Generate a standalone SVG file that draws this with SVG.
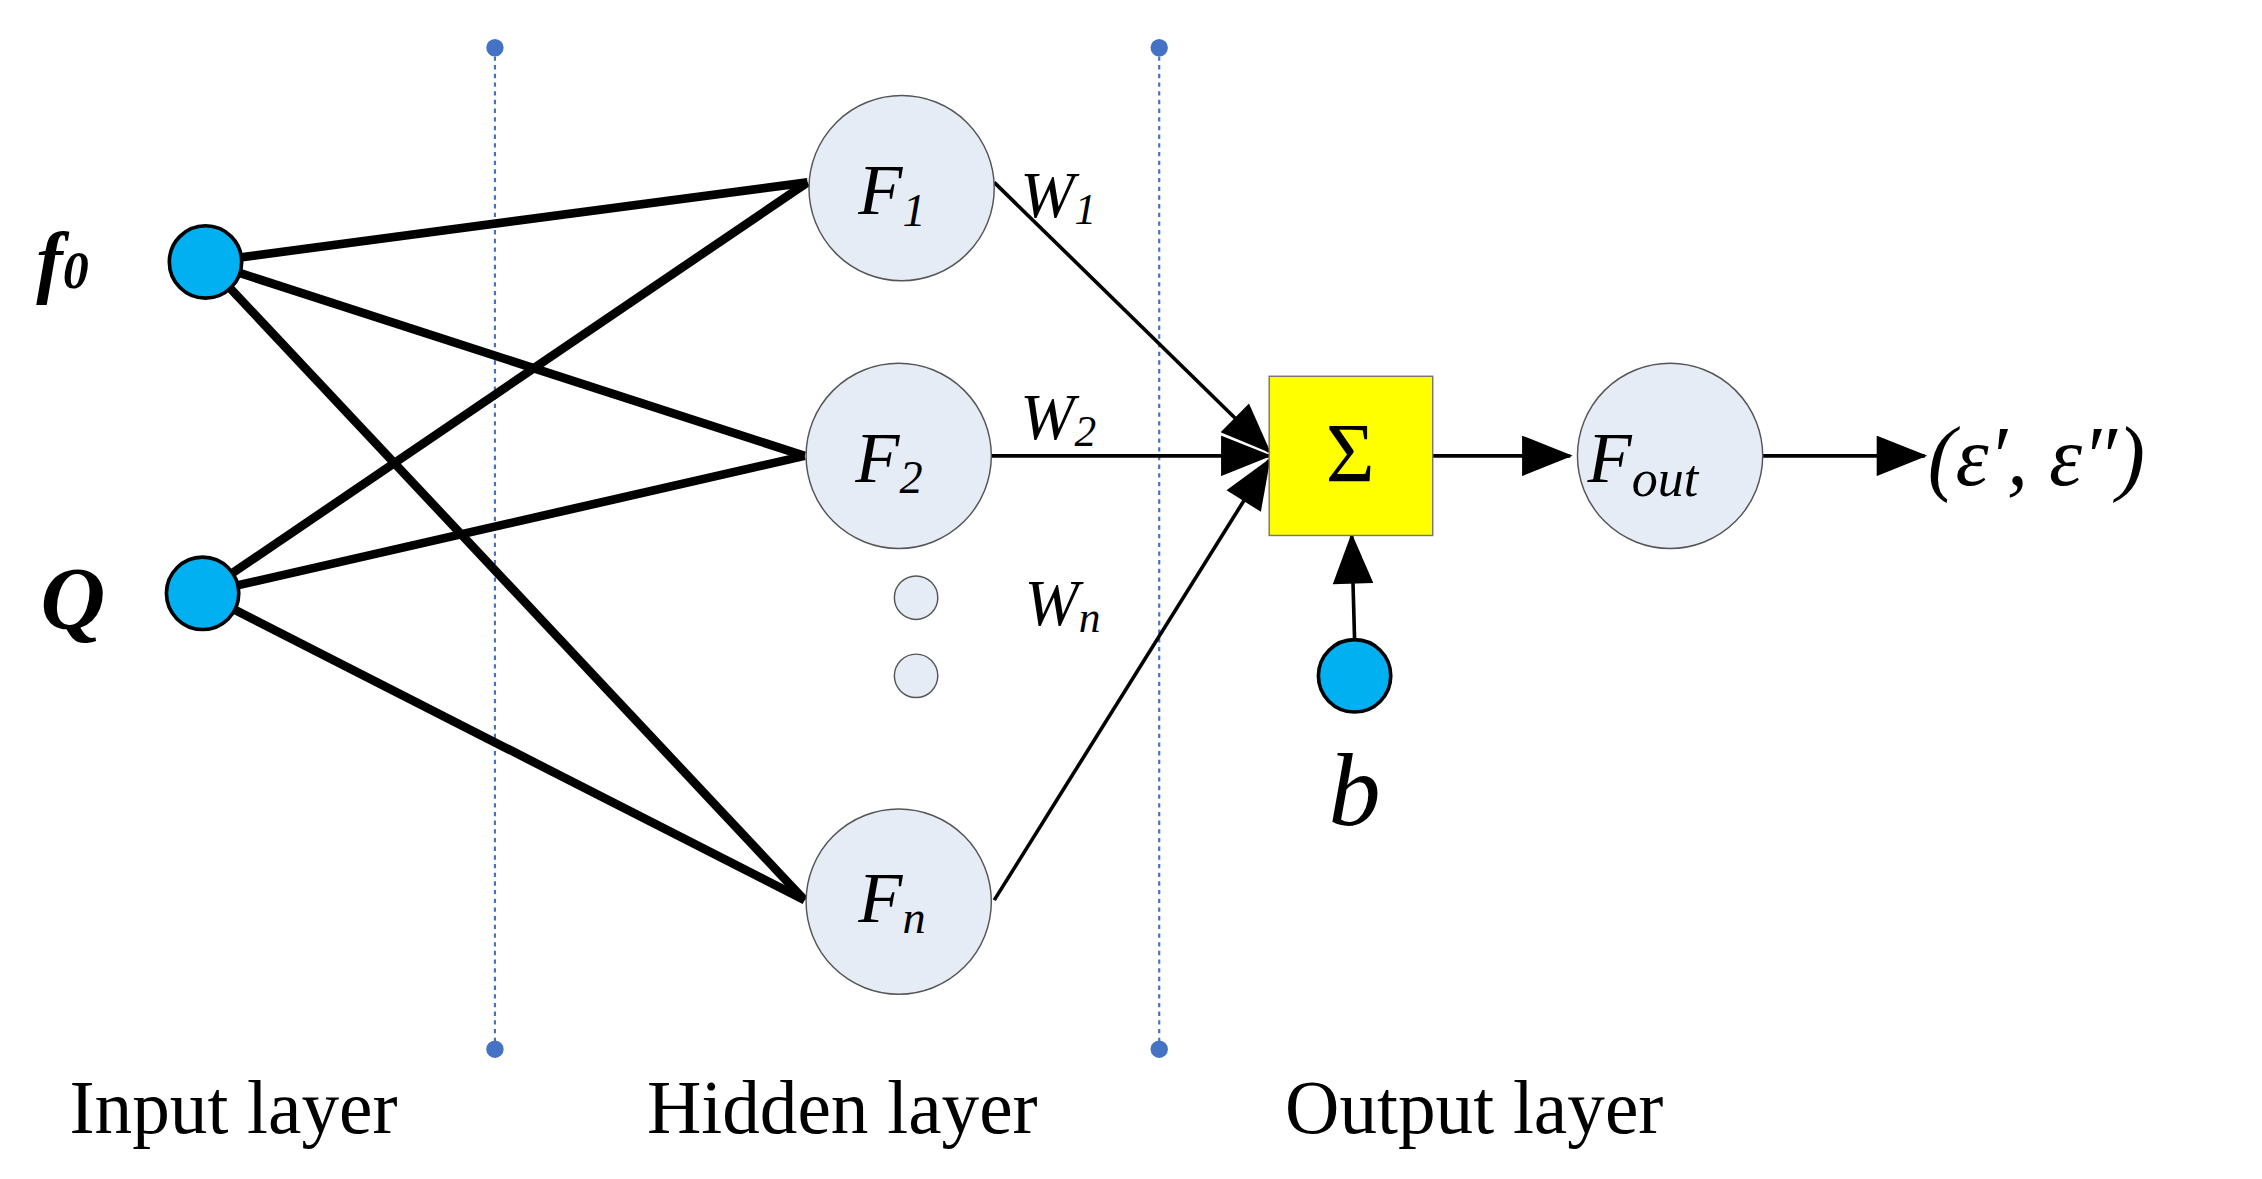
<svg xmlns="http://www.w3.org/2000/svg" width="2262" height="1179" viewBox="0 0 2262 1179">
<defs>
<style>
text{font-family:"Liberation Serif","Times New Roman",serif;fill:#000}
.i{font-style:italic}
.dash{stroke:#4472c4;stroke-width:1.5;stroke-dasharray:3 3}
.dot{fill:#4472c4}
.in{fill:#00b0f0;stroke:#000;stroke-width:2.5}
.hid{fill:#e6ecf5;stroke:#555;stroke-width:1}
.thick{stroke:#000;stroke-width:6;fill:none}
.thin{stroke:#000;stroke-width:2.5;fill:none}
</style>
<marker id="ah" markerWidth="10" markerHeight="8" refX="9" refY="4" orient="auto" markerUnits="userSpaceOnUse" viewBox="0 0 10 8"><path d="M0,0L10,4L0,8z" fill="#000"/></marker>
<marker id="ah2" viewBox="0 0 10 8" refX="9.5" refY="4" markerWidth="36" markerHeight="28" orient="auto" markerUnits="userSpaceOnUse"><path d="M0,0L10,4L0,8z" fill="#000"/></marker>
</defs>
<rect width="2262" height="1179" fill="#fff"/>
<g transform="scale(1.4472)">
<g id="dividers">
<line class="dash" x1="342" y1="33" x2="342" y2="725"/><circle class="dot" cx="342" cy="33" r="6"/><circle class="dot" cx="342" cy="725" r="6"/>
<line class="dash" x1="801" y1="33" x2="801" y2="725"/><circle class="dot" cx="801" cy="33" r="6"/><circle class="dot" cx="801" cy="725" r="6"/>
</g>
<g id="connectors">
<line class="thick" x1="142" y1="181" x2="558" y2="126"/>
<line class="thick" x1="142" y1="181" x2="556" y2="315"/>
<line class="thick" x1="142" y1="181" x2="556" y2="622"/>
<line class="thick" x1="140" y1="410" x2="558" y2="126"/>
<line class="thick" x1="140" y1="410" x2="556" y2="315"/>
<line class="thick" x1="140" y1="410" x2="556" y2="622"/>
<line class="thin" x1="687" y1="126" x2="877" y2="312" marker-end="url(#ah2)"/>
<line class="thin" x1="685" y1="315" x2="877" y2="315" marker-end="url(#ah2)"/>
<line class="thin" x1="687" y1="622" x2="877" y2="318" marker-end="url(#ah2)"/>
<line class="thin" x1="990" y1="315" x2="1085" y2="315" marker-end="url(#ah2)"/>
<line class="thin" x1="1218" y1="315" x2="1330" y2="315" marker-end="url(#ah2)"/>
<line class="thin" x1="936" y1="442" x2="934" y2="370" marker-end="url(#ah2)"/>
</g>
<g id="f0"><circle class="in" cx="142" cy="181" r="25"/><text class="i" x="25" y="199" font-size="55" font-weight="bold">f<tspan font-size="36" dy="0">0</tspan></text></g>
<g id="Q"><circle class="in" cx="140" cy="410" r="25"/><text class="i" x="28" y="434" font-size="62" font-weight="bold">Q</text></g>
<g id="b"><circle class="in" cx="936" cy="467" r="25"/><text class="i" x="918" y="570" font-size="72">b</text></g>
<g id="F1"><circle class="hid" cx="623" cy="130" r="64"/><text class="i" x="593" y="148" font-size="50">F<tspan font-size="32" dy="8">1</tspan></text></g>
<g id="F2"><circle class="hid" cx="621" cy="315" r="64"/><text class="i" x="591" y="333" font-size="50">F<tspan font-size="32" dy="8">2</tspan></text></g>
<g id="dots"><circle class="hid" cx="633" cy="413" r="15"/><circle class="hid" cx="633" cy="467" r="15"/></g>
<g id="Fn"><circle class="hid" cx="621" cy="623" r="64"/><text class="i" x="593" y="637" font-size="50">F<tspan font-size="32" dy="8">n</tspan></text></g>
<g id="weights">
<text class="i" x="705" y="150" font-size="45">W<tspan font-size="30" dy="5">1</tspan></text>
<text class="i" x="705" y="303" font-size="45">W<tspan font-size="30" dy="5">2</tspan></text>
<text class="i" x="708" y="432" font-size="45">W<tspan font-size="30" dy="5">n</tspan></text>
</g>
<g id="sum"><rect x="877" y="260" width="113" height="110" fill="#ffff00" stroke="#777" stroke-width="1"/><text x="933" y="333" font-size="58" text-anchor="middle">Σ</text></g>
<g id="Fout"><circle class="hid" cx="1154" cy="315" r="64"/><text class="i" x="1097" y="333" font-size="50">F<tspan font-size="36" dy="10">out</tspan></text></g>
<g id="output"><text class="i" x="1332" y="335" font-size="58">(ε′, ε″)</text></g>
<g id="labels">
<text x="48" y="783" font-size="52">Input layer</text>
<text x="447" y="783" font-size="52">Hidden layer</text>
<text x="888" y="783" font-size="52">Output layer</text>
</g>
</g>
</svg>
